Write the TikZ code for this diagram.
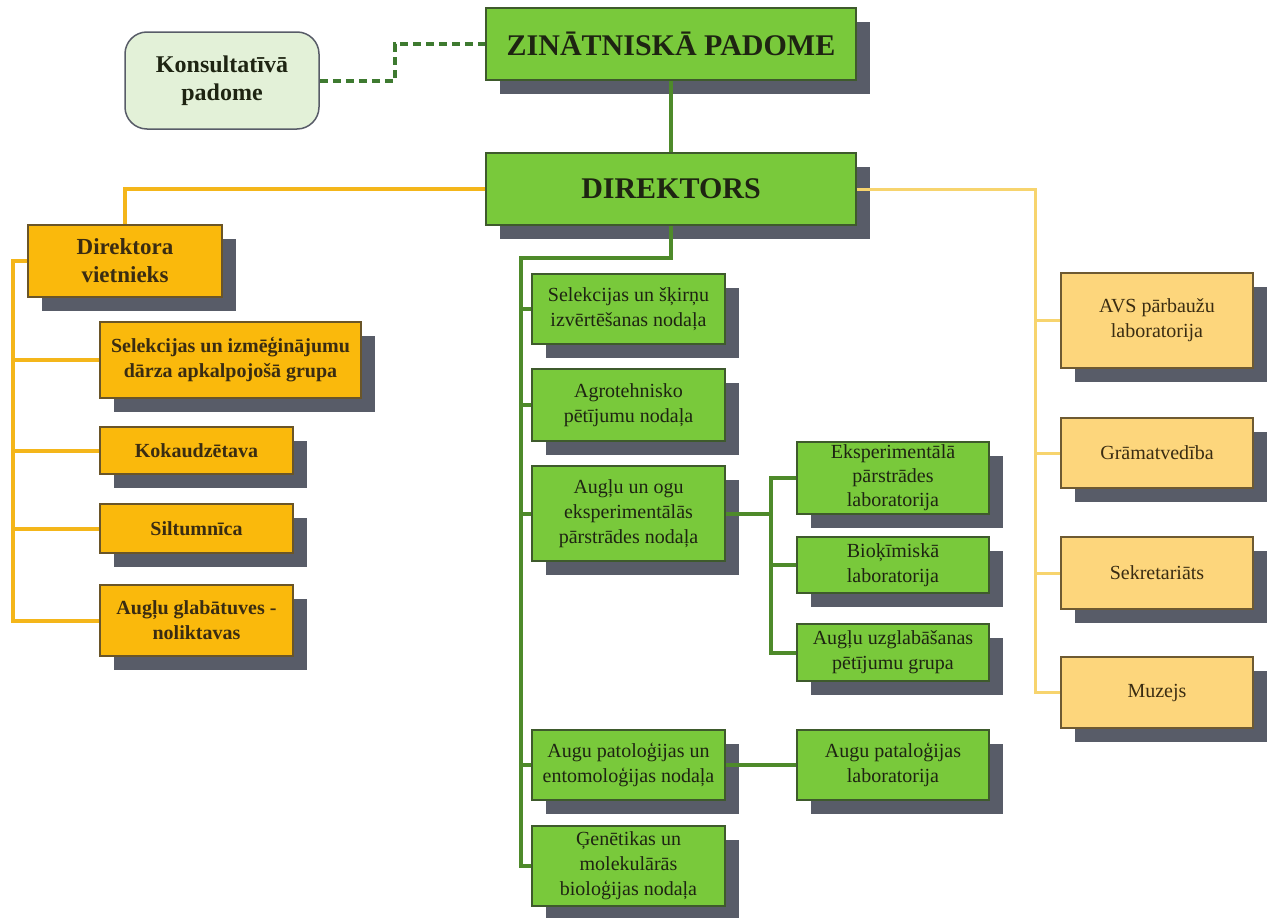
\documentclass[tikz,border=0pt]{standalone}
\usepackage{fontspec}
\setmainfont{Liberation Serif}
\usetikzlibrary{shadows,positioning,calc}

\definecolor{boxgreen}{HTML}{79C93B}
\definecolor{greenedge}{HTML}{3E5A2C}
\definecolor{linegreen}{HTML}{4E8A2A}
\definecolor{dashgreen}{HTML}{3E7A30}
\definecolor{palegreen}{HTML}{E3F1D8}
\definecolor{boxorange}{HTML}{FAB90C}
\definecolor{lineorange}{HTML}{F4B61A}
\definecolor{orangeedge}{HTML}{6A5528}
\definecolor{boxyellow}{HTML}{FDD67C}
\definecolor{lineyellow}{HTML}{F7D46E}
\definecolor{yellowedge}{HTML}{6E5A32}
\definecolor{shadowgray}{HTML}{585C68}
\definecolor{darktext}{HTML}{1E2412}
\definecolor{browntext}{HTML}{3A2C12}

\tikzset{
  unitbox/.style={rectangle, align=center, inner sep=2pt, line width=1.5pt,
    drop shadow={shadow xshift=14pt, shadow yshift=-14pt, fill=shadowgray, opacity=1}},
  topbox/.style={unitbox, draw=greenedge, fill=boxgreen, text=darktext,
    font=\bfseries\fontsize{30}{36}\selectfont, minimum width=370pt, minimum height=72pt},
  gbox/.style={unitbox, draw=greenedge, fill=boxgreen, text=darktext,
    font=\fontsize{20}{25}\selectfont, minimum width=193pt},
  obox/.style={unitbox, draw=orangeedge, fill=boxorange, text=browntext,
    font=\bfseries\fontsize{20}{25}\selectfont, minimum width=193pt},
  ybox/.style={unitbox, draw=yellowedge, fill=boxyellow, text=browntext,
    font=\fontsize{20}{25}\selectfont, minimum width=192pt},
  gline/.style={line width=4pt, draw=linegreen},
  oline/.style={line width=4pt, draw=lineorange},
  yline/.style={line width=3pt, draw=lineyellow},
  dline/.style={line width=4pt, draw=dashgreen, dash pattern=on 8pt off 5pt}
}

\begin{document}
\begin{tikzpicture}[x=1pt, y=-1pt]
  \useasboundingbox (0,0) rectangle (1274,918);

  \node[topbox] (zin) at (671, 44) {ZINĀTNISKĀ PADOME};
  \node[topbox] (dir) at (671, 189) {DIREKTORS};
  \node[draw=shadowgray, fill=palegreen, line width=1.5pt, rounded corners=22pt,
        minimum width=194pt, minimum height=97pt, align=center, text=darktext,
        font=\bfseries\fontsize{24}{28}\selectfont] (kons) at (222, 80.5) {Konsultatīvā\\padome};

  % left column
  \node[obox, minimum width=194pt, minimum height=72pt,
        font=\bfseries\fontsize{23}{28}\selectfont] (viet) at (125, 261) {Direktora\\vietnieks};
  \node[obox, minimum width=261pt, minimum height=76pt] (lsel) at (230.5, 360) {Selekcijas un izmēģinājumu\\dārza apkalpojošā grupa};
  \node[obox, minimum height=47pt] (kok) at (196.5, 450.5) {Kokaudzētava};
  \node[obox, minimum height=49pt] (silt) at (196.5, 528.5) {Siltumnīca};
  \node[obox, minimum height=71pt] (glab) at (196.5, 620.5) {Augļu glabātuves -\\noliktavas};

  % middle column
  \node[gbox, minimum height=70pt] (msel) at (628.5, 309) {Selekcijas un šķirņu\\izvērtēšanas nodaļa};
  \node[gbox, minimum height=72pt] (agro) at (628.5, 405) {Agrotehnisko\\pētījumu nodaļa};
  \node[gbox, minimum height=95pt] (ogu) at (628.5, 513.5) {Augļu un ogu\\eksperimentālās\\pārstrādes nodaļa};
  \node[gbox, minimum height=70pt] (pat) at (628.5, 765) {Augu patoloģijas un\\entomoloģijas nodaļa};
  \node[gbox, minimum height=80pt] (gen) at (628.5, 866) {Ģenētikas un\\molekulārās\\bioloģijas nodaļa};

  \node[gbox, minimum width=192pt, minimum height=72pt,
        font=\fontsize{20}{24}\selectfont] (eksp) at (893, 478) {Eksperimentālā\\pārstrādes\\laboratorija};
  \node[gbox, minimum width=192pt, minimum height=56pt] (bio) at (893, 565) {Bioķīmiskā\\laboratorija};
  \node[gbox, minimum width=192pt, minimum height=57pt] (uzgl) at (893, 652.5) {Augļu uzglabāšanas\\pētījumu grupa};
  \node[gbox, minimum width=192pt, minimum height=70pt] (plab) at (893, 765) {Augu pataloģijas\\laboratorija};

  % right column
  \node[ybox, minimum height=95pt] (avs) at (1157, 320.5) {AVS pārbaužu\\laboratorija};
  \node[ybox, minimum height=70pt] (gram) at (1157, 453) {Grāmatvedība};
  \node[ybox, minimum height=72pt] (sekr) at (1157, 573) {Sekretariāts};
  \node[ybox, minimum height=71pt] (muz) at (1157, 692.5) {Muzejs};

  \coordinate (lbus) at (13, 261);
  \coordinate (mbus) at (521, 258);
  \coordinate (sbus) at (771, 513.5);
  \coordinate (rbus) at (1035, 189);

  \draw[gline] (zin.south) -- (dir.north);
  \draw[dline] (kons.east) -- ++(75,0) |- (zin.west);

  \draw[oline] (dir.west) -| (viet.north);
  \draw[oline] (viet.west) -- (lbus) |- (glab.west);
  \foreach \n in {lsel, kok, silt}
    \draw[oline] (lbus) |- (\n.west);

  \draw[gline] (dir.south) |- (mbus) |- (gen.west);
  \foreach \n in {msel, agro, ogu, pat}
    \draw[gline] (mbus) |- (\n.west);
  \draw[gline] (ogu.east) -- (sbus);
  \foreach \n in {eksp, bio, uzgl}
    \draw[gline] (sbus) |- (\n.west);
  \draw[gline] (pat.east) -- (plab.west);

  \draw[yline] (dir.east) -- (rbus) |- (muz.west);
  \foreach \n in {avs, gram, sekr}
    \draw[yline] (rbus) |- (\n.west);
\end{tikzpicture}
\end{document}
